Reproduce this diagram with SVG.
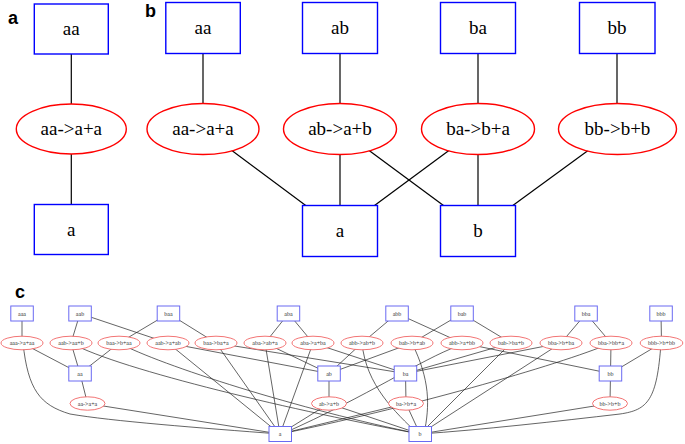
<svg xmlns="http://www.w3.org/2000/svg" width="685" height="444" viewBox="0 0 685 444">
<style>
.box{fill:#fff;stroke:#0000ff;stroke-width:1.4}
.ell{fill:#fff;stroke:#ff0000;stroke-width:1.4}
.e{stroke:#000;stroke-width:1.2;fill:none}
.t{font-family:"Liberation Serif","Times New Roman",serif;font-size:19px;text-anchor:middle;fill:#000}
.sbox{fill:#fff;stroke:#6a6af2;stroke-width:1}
.sell{fill:#fff;stroke:#f06464;stroke-width:0.9}
.se{stroke:#222;stroke-width:0.7;fill:none}
.st{font-family:"Liberation Serif","Times New Roman",serif;font-size:6px;text-anchor:middle;fill:#333}
.lbl{font-family:"Liberation Sans",Arial,sans-serif;font-weight:bold;font-size:18px;fill:#000}
</style>
<rect width="685" height="444" fill="#fff"/>
<text class="lbl" x="8" y="24">a</text>
<text class="lbl" x="145" y="17">b</text>
<text class="lbl" x="15" y="298">c</text>

<!-- Panel a/b connectors -->
<g id="connectors-ab">
<line class="e" x1="71.3" y1="29" x2="71.3" y2="229.5"/>
<line class="e" x1="203" y1="28" x2="203" y2="129"/>
<line class="e" x1="340" y1="28" x2="340" y2="231"/>
<line class="e" x1="478" y1="28" x2="478" y2="231"/>
<line class="e" x1="617" y1="28" x2="617" y2="129"/>
<line class="e" x1="203" y1="129" x2="340" y2="231"/>
<line class="e" x1="340" y1="129" x2="478" y2="231"/>
<line class="e" x1="478" y1="129" x2="340" y2="231"/>
<line class="e" x1="617.5" y1="129" x2="478" y2="231"/>
</g>

<g id="a-aa"><rect class="box" x="34.3" y="4" width="74" height="50"/><text class="t" x="71.3" y="35">aa</text></g>
<g id="a-r"><ellipse class="ell" cx="71.3" cy="129" rx="55" ry="25"/><text class="t" x="71.3" y="135">aa-&gt;a+a</text></g>
<g id="a-a"><rect class="box" x="34.3" y="204.5" width="74" height="50"/><text class="t" x="71.3" y="236">a</text></g>

<g id="b-aa"><rect class="box" x="165.8" y="2.5" width="74.5" height="51"/><text class="t" x="203" y="34">aa</text></g>
<g id="b-ab"><rect class="box" x="302.5" y="2.5" width="75" height="51"/><text class="t" x="340" y="34">ab</text></g>
<g id="b-ba"><rect class="box" x="440.5" y="2.5" width="75" height="51"/><text class="t" x="478" y="34">ba</text></g>
<g id="b-bb"><rect class="box" x="579.5" y="2.5" width="75.5" height="51"/><text class="t" x="617" y="34">bb</text></g>
<g id="b-r1"><ellipse class="ell" cx="203" cy="129" rx="56" ry="25.5"/><text class="t" x="203" y="135">aa-&gt;a+a</text></g>
<g id="b-r2"><ellipse class="ell" cx="340" cy="129" rx="56.5" ry="25.5"/><text class="t" x="340" y="135">ab-&gt;a+b</text></g>
<g id="b-r3"><ellipse class="ell" cx="478" cy="129" rx="56.5" ry="25.5"/><text class="t" x="478" y="135">ba-&gt;b+a</text></g>
<g id="b-r4"><ellipse class="ell" cx="617.5" cy="129" rx="59" ry="25.5"/><text class="t" x="617.5" y="135">bb-&gt;b+b</text></g>
<g id="b-a"><rect class="box" x="302.5" y="205.5" width="75" height="51"/><text class="t" x="340" y="237">a</text></g>
<g id="b-b"><rect class="box" x="440.5" y="205.5" width="75" height="51"/><text class="t" x="478" y="237">b</text></g>

<!-- Panel c connectors -->
<g id="connectors-c">
<line class="se" x1="22" y1="313.5" x2="22" y2="343"/>
<line class="se" x1="22" y1="343" x2="80" y2="373.5"/>
<path class="se" d="M23,343 C28,390 40,405 70,414 C110,421 200,428 280,434"/>
<line class="se" x1="80" y1="313.5" x2="71" y2="343"/>
<line class="se" x1="80" y1="313.5" x2="168" y2="343"/>
<line class="se" x1="71" y1="343" x2="80" y2="373.5"/>
<path class="se" d="M71,343 C120,370 300,412 420,434"/>
<line class="se" x1="168.5" y1="313.5" x2="119" y2="343"/>
<line class="se" x1="168.5" y1="313.5" x2="216" y2="343"/>
<line class="se" x1="119" y1="343" x2="80" y2="373.5"/>
<path class="se" d="M119,343 C160,365 300,410 420,434"/>
<line class="se" x1="168" y1="343" x2="280" y2="434"/>
<line class="se" x1="168" y1="343" x2="329" y2="373.5"/>
<line class="se" x1="216" y1="343" x2="405.5" y2="373.5"/>
<line class="se" x1="216" y1="343" x2="280" y2="434"/>
<line class="se" x1="288.5" y1="313.5" x2="265" y2="343"/>
<line class="se" x1="288.5" y1="313.5" x2="313" y2="343"/>
<line class="se" x1="265" y1="343" x2="329" y2="373.5"/>
<line class="se" x1="265" y1="343" x2="280" y2="434"/>
<line class="se" x1="313" y1="343" x2="280" y2="434"/>
<line class="se" x1="313" y1="343" x2="405.5" y2="373.5"/>
<line class="se" x1="397" y1="313.5" x2="362" y2="343"/>
<line class="se" x1="397" y1="313.5" x2="462" y2="343"/>
<line class="se" x1="362" y1="343" x2="329" y2="373.5"/>
<path class="se" d="M362,343 C366,385 395,412 418,434"/>
<line class="se" x1="462" y1="313.5" x2="412" y2="343"/>
<line class="se" x1="462" y1="313.5" x2="511" y2="343"/>
<line class="se" x1="412" y1="343" x2="329" y2="373.5"/>
<path class="se" d="M412,343 C430,380 430,405 424,434"/>
<line class="se" x1="462" y1="343" x2="610.5" y2="373.5"/>
<path class="se" d="M458,346 C420,360 370,395 282,434"/>
<line class="se" x1="511" y1="343" x2="405.5" y2="373.5"/>
<line class="se" x1="511" y1="343" x2="420" y2="434"/>
<line class="se" x1="586" y1="313.5" x2="561" y2="343"/>
<line class="se" x1="586" y1="313.5" x2="611" y2="343"/>
<line class="se" x1="561" y1="343" x2="405.5" y2="373.5"/>
<line class="se" x1="561" y1="343" x2="420" y2="434"/>
<line class="se" x1="611" y1="343" x2="610.5" y2="373.5"/>
<path class="se" d="M611,343 C560,365 400,410 280,434"/>
<line class="se" x1="661" y1="313.5" x2="661.5" y2="343"/>
<line class="se" x1="661.5" y1="343" x2="610.5" y2="373.5"/>
<path class="se" d="M661,343 C657,400 648,410 620,414 C560,421 480,430 420,434"/>
<line class="se" x1="80" y1="373.5" x2="87.5" y2="403.5"/>
<line class="se" x1="87.5" y1="403.5" x2="280" y2="434"/>
<line class="se" x1="329" y1="373.5" x2="329" y2="403.5"/>
<line class="se" x1="329" y1="403.5" x2="280" y2="434"/>
<line class="se" x1="329" y1="403.5" x2="420" y2="434"/>
<line class="se" x1="405.5" y1="373.5" x2="406" y2="403.5"/>
<line class="se" x1="406" y1="403.5" x2="420" y2="434"/>
<line class="se" x1="406" y1="403.5" x2="280" y2="434"/>
<line class="se" x1="610.5" y1="373.5" x2="610" y2="403.5"/>
<line class="se" x1="610" y1="403.5" x2="420" y2="434"/>
</g>

<g id="c-aaa"><rect class="sbox" x="10.8" y="306" width="22.5" height="15"/><text class="st" x="22" y="315.5">aaa</text></g>
<g id="c-aab"><rect class="sbox" x="68.8" y="306" width="22.5" height="15"/><text class="st" x="80" y="315.5">aab</text></g>
<g id="c-baa"><rect class="sbox" x="157.2" y="306" width="22.5" height="15"/><text class="st" x="168.5" y="315.5">baa</text></g>
<g id="c-aba"><rect class="sbox" x="277.2" y="306" width="22.5" height="15"/><text class="st" x="288.5" y="315.5">aba</text></g>
<g id="c-abb"><rect class="sbox" x="385.8" y="306" width="22.5" height="15"/><text class="st" x="397" y="315.5">abb</text></g>
<g id="c-bab"><rect class="sbox" x="450.8" y="306" width="22.5" height="15"/><text class="st" x="462" y="315.5">bab</text></g>
<g id="c-bba"><rect class="sbox" x="574.8" y="306" width="22.5" height="15"/><text class="st" x="586" y="315.5">bba</text></g>
<g id="c-bbb"><rect class="sbox" x="649.8" y="306" width="22.5" height="15"/><text class="st" x="661" y="315.5">bbb</text></g>

<g id="c-r1"><ellipse class="sell" cx="22" cy="343" rx="21" ry="6.8"/><text class="st" x="22" y="345">aaa-&gt;a+aa</text></g>
<g id="c-r2"><ellipse class="sell" cx="71" cy="343" rx="21" ry="6.8"/><text class="st" x="71" y="345">aab-&gt;aa+b</text></g>
<g id="c-r3"><ellipse class="sell" cx="119" cy="343" rx="21" ry="6.8"/><text class="st" x="119" y="345">baa-&gt;b+aa</text></g>
<g id="c-r4"><ellipse class="sell" cx="168" cy="343" rx="21" ry="6.8"/><text class="st" x="168" y="345">aab-&gt;a+ab</text></g>
<g id="c-r5"><ellipse class="sell" cx="216" cy="343" rx="21" ry="6.8"/><text class="st" x="216" y="345">baa-&gt;ba+a</text></g>
<g id="c-r6"><ellipse class="sell" cx="265" cy="343" rx="21" ry="6.8"/><text class="st" x="265" y="345">aba-&gt;ab+a</text></g>
<g id="c-r7"><ellipse class="sell" cx="313" cy="343" rx="21" ry="6.8"/><text class="st" x="313" y="345">aba-&gt;a+ba</text></g>
<g id="c-r8"><ellipse class="sell" cx="362" cy="343" rx="21" ry="6.8"/><text class="st" x="362" y="345">abb-&gt;ab+b</text></g>
<g id="c-r9"><ellipse class="sell" cx="412" cy="343" rx="21" ry="6.8"/><text class="st" x="412" y="345">bab-&gt;b+ab</text></g>
<g id="c-r10"><ellipse class="sell" cx="462" cy="343" rx="21" ry="6.8"/><text class="st" x="462" y="345">abb-&gt;a+bb</text></g>
<g id="c-r11"><ellipse class="sell" cx="511" cy="343" rx="21" ry="6.8"/><text class="st" x="511" y="345">bab-&gt;ba+b</text></g>
<g id="c-r12"><ellipse class="sell" cx="561" cy="343" rx="21" ry="6.8"/><text class="st" x="561" y="345">bba-&gt;b+ba</text></g>
<g id="c-r13"><ellipse class="sell" cx="611" cy="343" rx="21" ry="6.8"/><text class="st" x="611" y="345">bba-&gt;bb+a</text></g>
<g id="c-r14"><ellipse class="sell" cx="661.5" cy="343" rx="21.3" ry="6.8"/><text class="st" x="661.5" y="345">bbb-&gt;b+bb</text></g>

<g id="c-aa"><rect class="sbox" x="68.8" y="366" width="22.5" height="15"/><text class="st" x="80" y="375.5">aa</text></g>
<g id="c-ab"><rect class="sbox" x="317.8" y="366" width="22.5" height="15"/><text class="st" x="329" y="375.5">ab</text></g>
<g id="c-ba"><rect class="sbox" x="394.2" y="366" width="22.5" height="15"/><text class="st" x="405.5" y="375.5">ba</text></g>
<g id="c-bb"><rect class="sbox" x="599.2" y="366" width="22.5" height="15"/><text class="st" x="610.5" y="375.5">bb</text></g>

<g id="c-s1"><ellipse class="sell" cx="87.5" cy="403.5" rx="17.5" ry="6.7"/><text class="st" x="87.5" y="405.5">aa-&gt;a+a</text></g>
<g id="c-s2"><ellipse class="sell" cx="329" cy="403.5" rx="17.5" ry="6.7"/><text class="st" x="329" y="405.5">ab-&gt;a+b</text></g>
<g id="c-s3"><ellipse class="sell" cx="406" cy="403.5" rx="17.5" ry="6.7"/><text class="st" x="406" y="405.5">ba-&gt;b+a</text></g>
<g id="c-s4"><ellipse class="sell" cx="610" cy="403.5" rx="17.5" ry="6.7"/><text class="st" x="610" y="405.5">bb-&gt;b+b</text></g>

<g id="c-a"><rect class="sbox" x="269" y="426.5" width="22.5" height="15"/><text class="st" x="280" y="436">a</text></g>
<g id="c-b"><rect class="sbox" x="409" y="426.5" width="22.5" height="15"/><text class="st" x="420" y="436">b</text></g>
</svg>
